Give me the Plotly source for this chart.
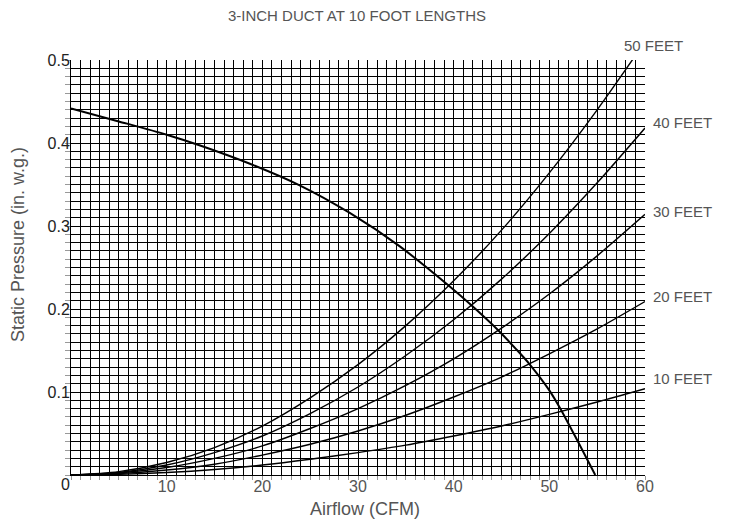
import plotly.graph_objects as go

# ---- data ----
airflow = [0, 5, 10, 15, 20, 25, 30, 35, 40, 45, 50, 55, 60]
duct_10ft = [0, 0.0008, 0.003, 0.0067, 0.012, 0.019, 0.027, 0.036, 0.047, 0.059, 0.073, 0.088, 0.104]
duct_20ft = [0, 0.0016, 0.006, 0.013, 0.024, 0.037, 0.053, 0.072, 0.094, 0.118, 0.146, 0.176, 0.209]
duct_30ft = [0, 0.0025, 0.009, 0.020, 0.035, 0.056, 0.080, 0.108, 0.140, 0.177, 0.218, 0.264, 0.314]
duct_40ft = [0, 0.003, 0.012, 0.027, 0.047, 0.074, 0.106, 0.144, 0.187, 0.236, 0.291, 0.352, 0.418]
duct_50ft = [0, 0.004, 0.015, 0.033, 0.059, 0.093, 0.133, 0.180, 0.234, 0.295, 0.364, 0.440, 0.522]

fan_airflow = [0, 5, 10, 13.5, 18.7, 23.9, 29.1, 34.3, 39.5, 42.0, 44.6, 46.5, 47.9, 50.0, 51.2, 53.0, 54.8]
fan_pressure = [0.4415, 0.426, 0.41, 0.397, 0.375, 0.349, 0.316, 0.276, 0.228, 0.203, 0.175, 0.152, 0.134, 0.102, 0.079, 0.040, 0.0]

x_tick_vals = [10, 20, 30, 40, 50, 60]
x_tick_text = ["10", "20", "30", "40", "50", "60"]
y_tick_vals = [0.1, 0.2, 0.3, 0.4, 0.5]
y_tick_text = ["0.1", "0.2", "0.3", "0.4", "0.5"]

duct_series = [
    ("10 FEET", duct_10ft),
    ("20 FEET", duct_20ft),
    ("30 FEET", duct_30ft),
    ("40 FEET", duct_40ft),
    ("50 FEET", duct_50ft),
]
label_pos = {
    "10 FEET": (1.011, 0.116),
    "20 FEET": (1.011, 0.215),
    "30 FEET": (1.011, 0.318),
    "40 FEET": (1.011, 0.425),
    "50 FEET": (0.960, 0.518),
}

FONT = "Arial, Liberation Sans, sans-serif"
GRAY = "#555555"

fig = go.Figure()
for name, vals in duct_series:
    fig.add_trace(go.Scatter(x=airflow, y=vals, mode="lines", name=name,
                             line=dict(color="black", width=1.4, shape="spline", smoothing=0.8),
                             showlegend=False, hoverinfo="skip"))
fig.add_trace(go.Scatter(x=fan_airflow, y=fan_pressure, mode="lines", name="Fan",
                         line=dict(color="black", width=2, shape="spline", smoothing=0.8),
                         showlegend=False, hoverinfo="skip"))

for name, _ in duct_series:
    px, py = label_pos[name]
    fig.add_annotation(x=px, y=(py / 0.5), xref="paper", yref="paper", text=name, showarrow=False,
                       xanchor="left", yanchor="middle",
                       font=dict(family=FONT, size=15, color=GRAY))

# origin "0" label
fig.add_annotation(x=0, y=0, xref="x", yref="y", text="0", showarrow=False,
                   xanchor="right", yanchor="middle", xshift=1, yshift=-9,
                   font=dict(family=FONT, size=16, color="#222222"))

# axis titles
fig.add_annotation(x=0.5, y=0, xref="paper", yref="paper", text="Airflow (CFM)",
                   showarrow=False, xanchor="center", yanchor="top", yshift=-22, xshift=7,
                   font=dict(family=FONT, size=18, color=GRAY))
fig.add_annotation(x=0, y=0.554, xref="paper", yref="paper", text="Static Pressure (in. w.g.)",
                   showarrow=False, textangle=-90, xanchor="center", yanchor="middle",
                   xshift=-53, font=dict(family=FONT, size=18, color=GRAY))

fig.update_layout(
    width=721, height=519,
    margin=dict(l=63, r=84, t=52, b=52),
    paper_bgcolor="white", plot_bgcolor="white",
    title=dict(text="3-INCH DUCT AT 10 FOOT LENGTHS", x=0.484, xanchor="center",
               y=0.986, yanchor="middle",
               font=dict(family=FONT, size=15, color=GRAY)),
    font=dict(family=FONT),
)
fig.update_xaxes(
    range=[0, 60], tickmode="array", tickvals=x_tick_vals, ticktext=x_tick_text,
    showgrid=True, gridcolor="black", gridwidth=1, zeroline=False,
    showline=True, linecolor="black", linewidth=1, mirror=False,
    ticks="outside", ticklen=4, tickcolor="#999999",
    ticklabelstandoff=-7,
    tickfont=dict(family=FONT, size=16, color=GRAY),
    minor=dict(dtick=1, showgrid=True, gridcolor="black", gridwidth=1,
               ticks="outside", ticklen=4, tickcolor="#999999"),
)
fig.update_yaxes(
    range=[0, 0.5], tickmode="array", tickvals=y_tick_vals, ticktext=y_tick_text,
    showgrid=True, gridcolor="black", gridwidth=1, zeroline=False,
    showline=True, linecolor="black", linewidth=1,
    ticks="outside", ticklen=5, tickcolor="#999999",
    ticklabelstandoff=-8,
    tickfont=dict(family=FONT, size=16, color="#222222"),
    minor=dict(dtick=0.01, showgrid=True, gridcolor="black", gridwidth=1,
               ticks="outside", ticklen=5, tickcolor="#999999"),
)

fig.write_html("out.html")
